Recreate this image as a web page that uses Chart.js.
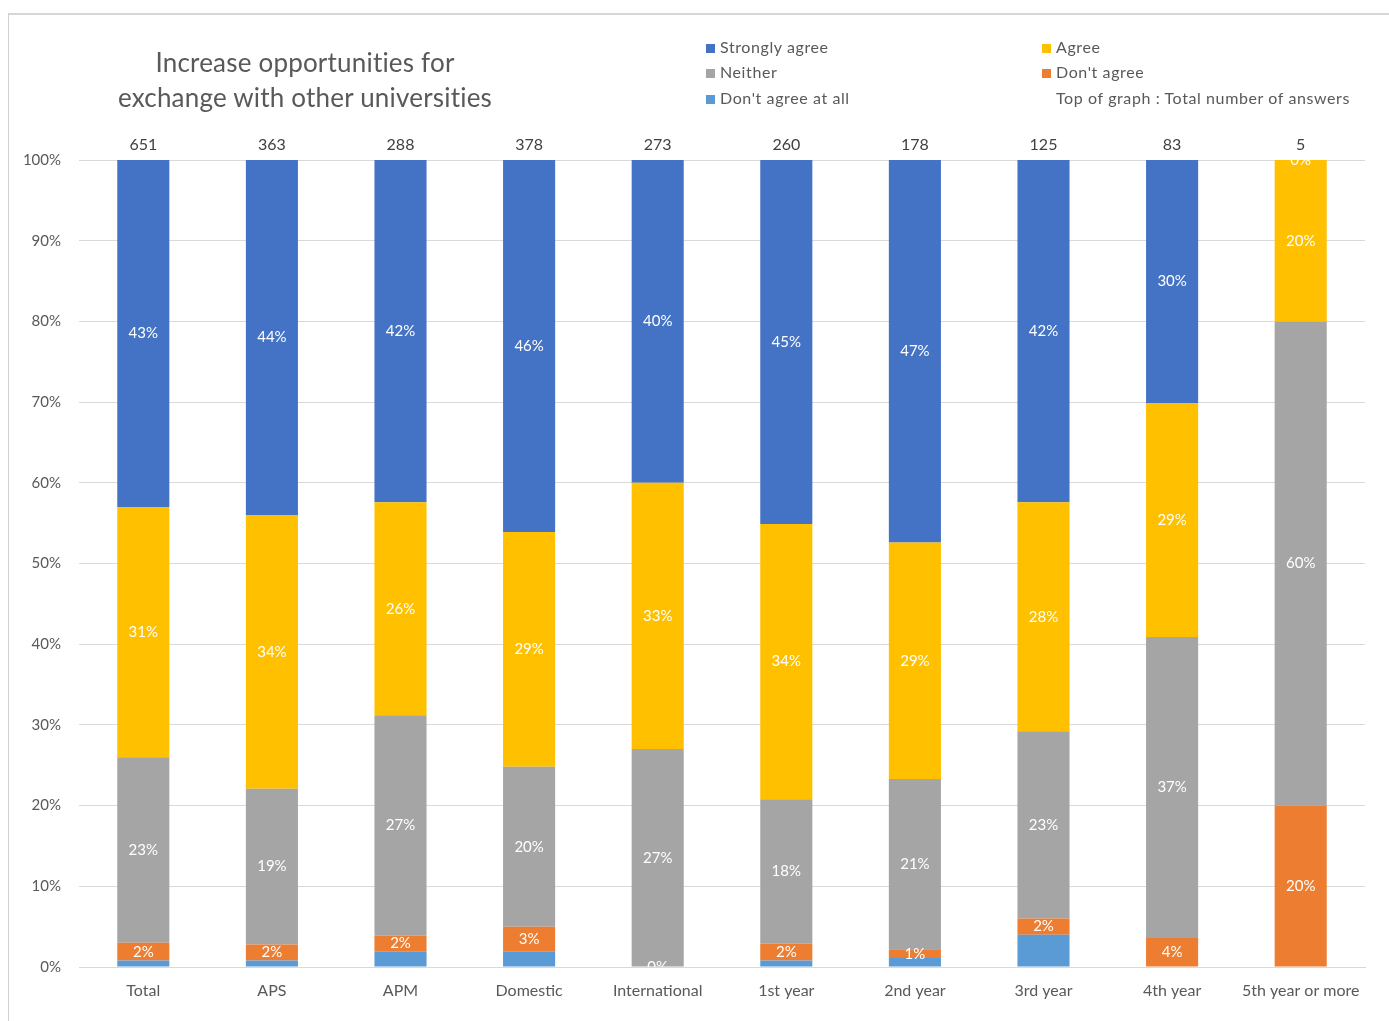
<!DOCTYPE html>
<html><head><meta charset="utf-8">
<script src="https://cdn.jsdelivr.net/npm/chart.js@4"></script>
<style>
html,body{margin:0;padding:0;background:#fff;}
#wrap{position:relative;width:1389px;height:1021px;overflow:hidden;font-family:Lato,"Open Sans",sans-serif;}
#frame{position:absolute;left:8px;top:13px;width:1400px;height:1100px;border-top:2px solid #d6d6d6;border-left:1px solid #d0d0d0;box-sizing:border-box;}
canvas{position:absolute;left:0;top:0;}
#title{position:absolute;left:80px;width:450px;top:45px;text-align:center;font-size:26px;line-height:35px;color:#595959;letter-spacing:0.2px;}
.lg{position:absolute;font-size:16px;color:#595959;line-height:18px;white-space:nowrap;letter-spacing:0.6px;}
.lg i{display:inline-block;width:9px;height:9px;margin-right:5px;vertical-align:0px;}
</style></head>
<body><div id="wrap">
<div id="frame"></div>
<canvas id="c" width="1389" height="1021"></canvas>
<div id="title">Increase opportunities for<br>exchange with other universities</div>
<div id="legend"></div>
</div>
<script>
const categories = ["Total","APS","APM","Domestic","International","1st year","2nd year","3rd year","4th year","5th year or more"];
const totals = [651,363,288,378,273,260,178,125,83,5];
const dontAgreeAtAll = [0.8,0.8,1.9,1.9,0,0.8,1.1,4.0,0,0];
const dontAgree      = [2.2,2.0,2.0,3.1,0,2.1,1.1,2.0,3.6,20];
const neither        = [23.0,19.3,27.3,19.8,27,17.9,21.1,23.2,37.3,60];
const agree          = [31.0,33.9,26.4,29.1,33,34.1,29.3,28.4,29.0,20];
const stronglyAgree  = [43.0,44.0,42.4,46.1,40,45.1,47.4,42.4,30.1,0];
const yTicks = [0,10,20,30,40,50,60,70,80,90,100];

const series = [
  {label:"Don't agree at all", data:dontAgreeAtAll, color:'#5b9bd5', showLabel:false},
  {label:"Don't agree", data:dontAgree, color:'#ed7d31', showLabel:true},
  {label:"Neither", data:neither, color:'#a5a5a5', showLabel:true},
  {label:"Agree", data:agree, color:'#ffc000', showLabel:true},
  {label:"Strongly agree", data:stronglyAgree, color:'#4472c4', showLabel:true}
];

// legend (HTML)
const legendItems = [
  ["Strongly agree",'#4472c4',706,38],["Agree",'#ffc000',1042,38],
  ["Neither",'#a5a5a5',706,63],["Don't agree",'#ed7d31',1042,63],
  ["Don't agree at all",'#5b9bd5',706,89],["Top of graph : Total number of answers",null,1042,89]
];
const lg = document.getElementById('legend');
legendItems.forEach(([t,c,x,y])=>{
  const d=document.createElement('div');d.className='lg';d.style.left=x+'px';d.style.top=y+'px';
  d.innerHTML=(c?'<i style="background:'+c+'"></i>':'<i style="background:transparent"></i>')+t;
  lg.appendChild(d);
});

const labelPlugin = {
  id:'segLabels',
  afterDatasetsDraw(chart){
    const ctx=chart.ctx, ca=chart.chartArea;
    ctx.save();
    ctx.beginPath();ctx.rect(ca.left,ca.top,ca.right-ca.left,ca.bottom-ca.top);ctx.clip();
    ctx.font='15px Lato, "Open Sans", sans-serif';
    ctx.fillStyle='#ffffff';ctx.textAlign='center';ctx.textBaseline='middle';
    chart.data.datasets.forEach((ds,di)=>{
      if(!series[di].showLabel) return;
      const meta=chart.getDatasetMeta(di);
      meta.data.forEach((bar,i)=>{
        const v=ds.data[i];
        const yc=(bar.y+bar.base)/2;
        ctx.fillText(Math.round(v)+'%',bar.x,yc);
      });
    });
    ctx.restore();
    ctx.save();
    ctx.font='16px Lato, "Open Sans", sans-serif';
    ctx.fillStyle='#404040';ctx.textAlign='center';ctx.textBaseline='middle';
    const meta=chart.getDatasetMeta(0);
    meta.data.forEach((bar,i)=>{ctx.fillText(String(totals[i]),bar.x,ca.top-15);});
    ctx.restore();
  }
};

new Chart(document.getElementById('c'),{
  type:'bar',
  data:{labels:categories,datasets:series.map(s=>({label:s.label,data:s.data,backgroundColor:s.color,borderWidth:0,barPercentage:0.405,categoryPercentage:1}))},
  options:{
    responsive:false,animation:false,
    layout:{padding:{left:0,right:24,top:160,bottom:0}},
    plugins:{legend:{display:false},title:{display:false},tooltip:{enabled:false}},
    scales:{
      x:{stacked:true,grid:{display:false,drawTicks:false},border:{color:'#d9d9d9',width:1},
         ticks:{color:'#595959',font:{family:'Lato',size:16},padding:14,maxRotation:0,autoSkip:false},
         afterFit(s){s.height=54;}},
      y:{stacked:true,min:0,max:100,
         afterBuildTicks(s){s.ticks=yTicks.map(v=>({value:v}));},
         grid:{color:'#d9d9d9',drawTicks:false},border:{display:false},
         ticks:{color:'#595959',font:{family:'Lato',size:15},padding:18,callback:v=>v+'%'},
         afterFit(s){s.width=79;}}
    }
  },
  plugins:[labelPlugin]
});
</script>
</body></html>
